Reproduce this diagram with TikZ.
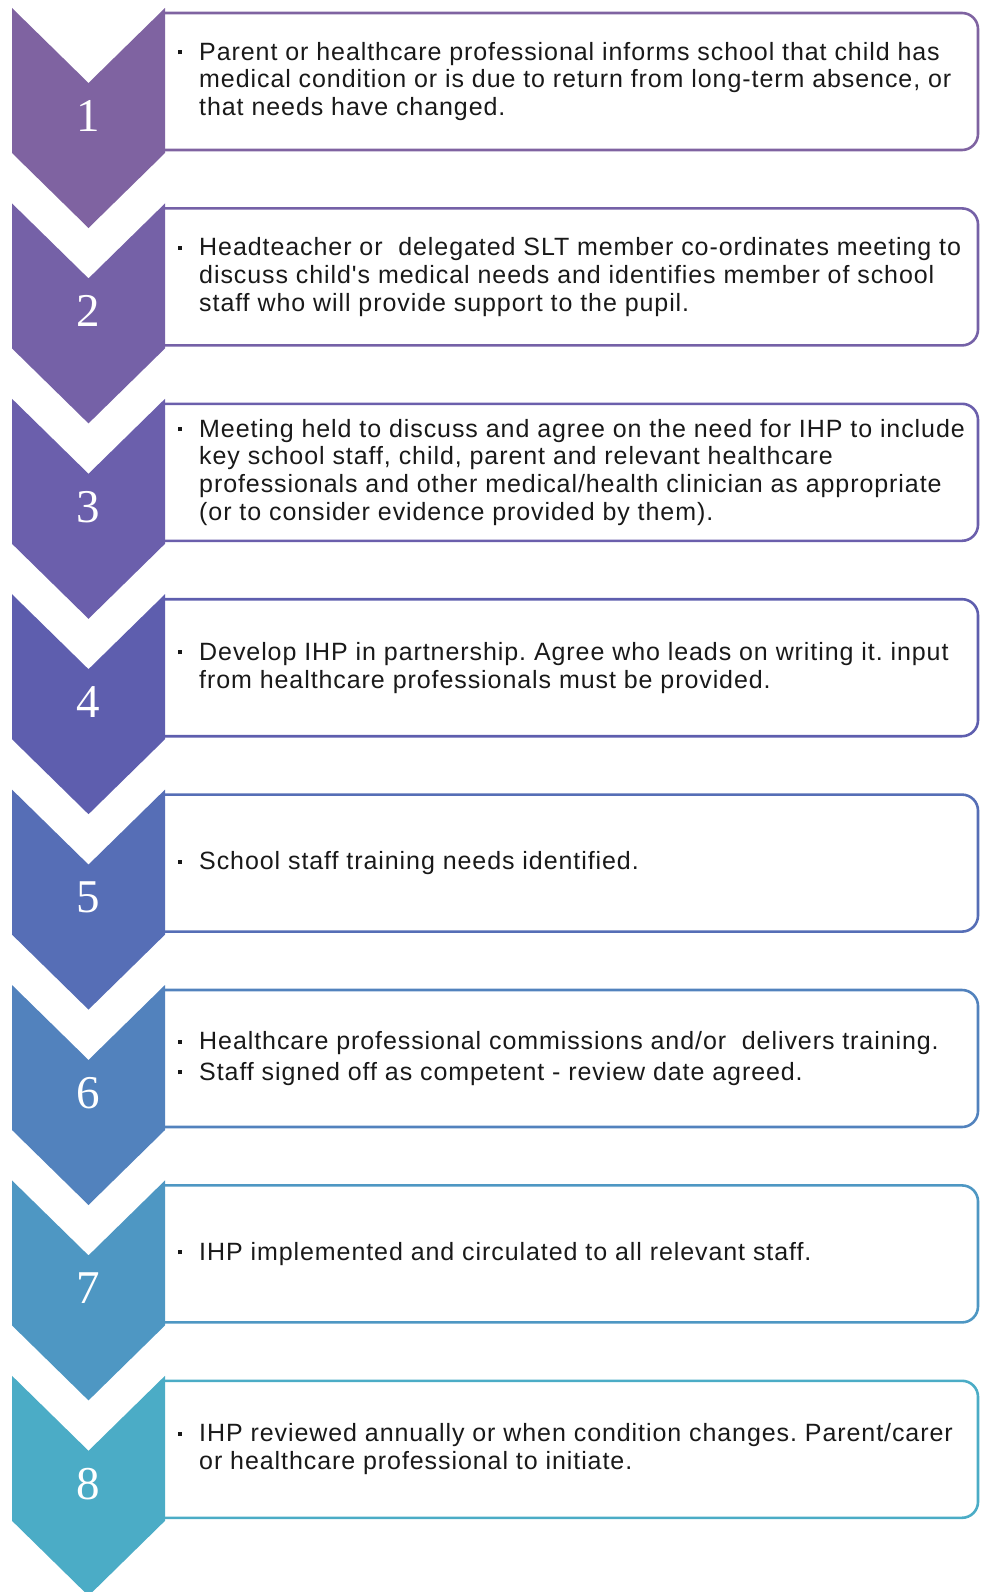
\documentclass[tikz,border=0pt]{standalone}
\usepackage{fontspec}
\newfontfamily\sansf[LetterSpace=3.7]{Liberation Sans}
\newfontfamily\numf{Liberation Serif}
\frenchspacing
\definecolor{c1}{HTML}{7F63A1}
\definecolor{c2}{HTML}{7561A7}
\definecolor{c3}{HTML}{6B5FAC}
\definecolor{c4}{HTML}{5E5EAE}
\definecolor{c5}{HTML}{566EB6}
\definecolor{c6}{HTML}{5282BD}
\definecolor{c7}{HTML}{4E97C3}
\definecolor{c8}{HTML}{4BACC6}
\newcommand{\bl}{\makebox[23pt][l]{\hspace{2pt}\rule[6pt]{4pt}{4pt}}}
\newcommand{\ind}{\hspace*{23pt}}
\tikzset{
  boxline/.style={line width=2.6pt, rounded corners=16pt},
  num/.style={text=white, font=\numf\fontsize{47}{48}\selectfont, inner sep=0pt},
  txt/.style={anchor=west, inner sep=0pt, align=left, text=black!90,
    font=\sansf\fontsize{25}{27.7}\selectfont\frenchspacing}
}
\newcommand{\stage}[3]{%
  \pgfmathsetmacro{\ty}{8+195.4*(#1-1)}
  \draw[boxline, draw=c#1] (163,\ty+5) -| (978,\ty+142) -- (163,\ty+142);
  \fill[c#1] (12,\ty) -- (88.5,\ty+75) -- (165,\ty) -- (165,\ty+145)
     -- (88.5,\ty+220) -- (12,\ty+145) -- cycle;
  \node[num] (n#1) at (88.5,\ty+108) {#1};
  \node[txt] (t#1) at (176,\ty+73.5) {#3};
}
\begin{document}
\begin{tikzpicture}[x=1pt,y=-1pt]
\useasboundingbox (0,0) rectangle (981,1592);
\stage{1}{}{\bl Parent or healthcare professional informs school that child has\\
\ind medical condition or is due to return from long-term absence, or\\
\ind that needs have changed.}
\stage{2}{}{\bl Headteacher or\ \ delegated SLT member co-ordinates meeting to\\
\ind discuss child's medical needs and identifies member of school\\
\ind staff who will provide support to the pupil.}
\stage{3}{}{\bl Meeting held to discuss and agree on the need for IHP to include\\
\ind key school staff, child, parent and relevant healthcare\\
\ind professionals and other medical/health clinician as appropriate\\
\ind (or to consider evidence provided by them).}
\stage{4}{}{\bl Develop IHP in partnership. Agree who leads on writing it. input\\
\ind from healthcare professionals must be provided.}
\stage{5}{}{\bl School staff training needs identified.}
\stage{6}{}{\bl Healthcare professional commissions and/or\ \ delivers training.\\[3pt]
\bl Staff signed off as competent - review date agreed.}
\stage{7}{}{\bl IHP implemented and circulated to all relevant staff.}
\stage{8}{}{\bl IHP reviewed annually or when condition changes. Parent/carer\\
\ind or healthcare professional to initiate.}
\end{tikzpicture}
\end{document}
